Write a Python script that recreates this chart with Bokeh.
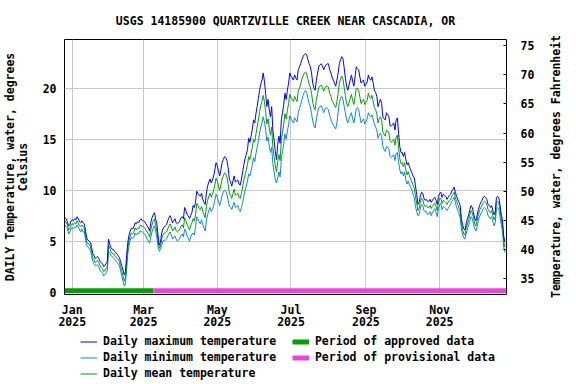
import math
import pandas as pd
from bokeh.plotting import figure
from bokeh.layouts import column
from bokeh.models import Range1d, LinearAxis, FixedTicker, Legend, LegendItem, ColumnDataSource, Label
from bokeh.embed import file_html
from bokeh.resources import INLINE

TITLE = "USGS 14185900 QUARTZVILLE CREEK NEAR CASCADIA, OR"
LEFT_LABEL = "DAILY Temperature, water, degrees\nCelsius"
RIGHT_LABEL = "Temperature, water, degrees Fahrenheit"
FONT = "DejaVu Sans Mono"

start_date = "2024-12-26"
approved_end = "2025-03-09"

tick_dates = ["2025-01-01", "2025-03-01", "2025-05-01", "2025-07-01", "2025-09-01", "2025-11-01"]
tick_labels = ["Jan\n2025", "Mar\n2025", "May\n2025", "Jul\n2025", "Sep\n2025", "Nov\n2025"]
celsius_ticks = [0, 5, 10, 15, 20]
fahrenheit_ticks = [35, 40, 45, 50, 55, 60, 65, 70, 75]

max_temp = [
    7.3, 7.2, 6.9, 6.5, 6.6, 7.0,
    7.1, 7.0, 7.2, 7.1, 7.4, 7.2, 6.9, 6.8, 7.0, 6.8,
    6.7, 6.0, 5.3, 5.1, 5.0, 4.9, 4.4, 3.8, 3.6, 3.3,
    3.4, 3.5, 3.3, 3.0, 2.9, 2.8, 2.5, 2.6, 2.8, 3.0,
    5.2, 4.7, 4.4, 4.2, 4.2, 4.0, 3.9, 3.7, 3.6, 3.4,
    3.0, 2.6, 2.2, 1.7, 2.0, 3.6, 4.9, 5.6, 6.0, 6.3,
    6.2, 6.4, 6.8, 6.7, 6.9, 6.8, 7.1, 7.2, 7.0, 7.0,
    6.9, 6.7, 6.5, 6.3, 6.0, 6.8, 7.3, 7.6, 7.8, 7.2,
    6.7, 5.6, 4.6, 4.9, 5.8, 6.2, 6.4, 6.5, 6.6, 7.0,
    7.3, 7.5, 7.2, 6.8, 7.0, 7.2, 6.8, 6.7, 6.8, 7.0,
    7.3, 7.4, 7.2, 8.3, 8.0, 7.6, 7.5, 7.2, 7.5, 7.8,
    8.5, 8.3, 8.8, 9.9, 9.7, 9.5, 9.4, 9.7, 9.1, 8.8,
    8.6, 9.7, 10.4, 10.8, 11.1, 10.7, 11.0, 11.4, 12.0, 12.7,
    12.4, 11.9, 11.4, 12.0, 12.7, 13.0, 13.3, 13.2, 12.9, 12.2,
    11.1, 10.8, 10.4, 10.9, 11.4, 10.8, 10.9, 11.0, 10.6, 10.5,
    11.1, 11.8, 12.5, 13.1, 13.5, 14.0, 15.1, 14.7, 15.3, 16.0,
    16.9, 16.6, 17.5, 18.2, 19.0, 19.8, 20.4, 20.8, 21.5, 20.7,
    19.5, 18.2, 18.9, 17.9, 17.2, 18.2, 15.9, 14.9, 13.8, 13.0,
    14.5, 15.3, 14.6, 16.9, 17.6, 18.4, 19.5, 18.9, 19.8, 20.5,
    21.5, 21.2, 21.0, 20.8, 21.3, 21.0, 20.8, 21.8, 22.1, 22.4,
    22.8, 23.1, 23.3, 23.4, 23.3, 22.8, 22.4, 22.1, 21.5, 20.5,
    20.0, 19.8, 20.8, 21.5, 22.1, 22.3, 22.4, 22.2, 21.8, 22.1,
    22.3, 22.4, 22.4, 21.8, 21.5, 21.1, 20.8, 20.5, 20.2, 20.8,
    21.5, 22.4, 22.8, 23.1, 22.9, 22.0, 21.0, 20.2, 19.8, 20.3,
    20.8, 21.3, 20.7, 20.2, 21.1, 22.1, 21.9, 21.8, 21.1, 20.5,
    20.7, 20.8, 20.2, 20.4, 20.6, 21.3, 20.9, 20.8, 21.1, 20.5,
    19.8, 19.6, 19.2, 18.2, 18.6, 18.9, 18.5, 17.2, 17.0, 16.9,
    17.6, 17.4, 17.2, 16.3, 16.3, 16.4, 16.6, 15.9, 16.9, 17.1,
    15.6, 14.3, 13.7, 13.7, 13.3, 13.7, 13.0, 12.5, 12.7, 12.3,
    12.0, 11.7, 11.4, 11.2, 10.4, 9.6, 8.6, 8.8, 9.4, 9.8,
    9.7, 9.2, 9.0, 9.1, 8.9, 8.9, 9.1, 8.8, 9.0, 9.2,
    9.3, 9.0, 8.6, 9.4, 9.7, 9.8, 9.3, 9.6, 9.5, 9.4,
    9.1, 9.3, 9.5, 9.6, 9.9, 10.1, 10.3, 9.8, 9.4, 9.1,
    8.8, 8.5, 7.2, 6.6, 6.2, 6.1, 6.8, 7.2, 7.6, 8.1,
    8.5, 8.3, 7.8, 7.2, 7.0, 7.5, 8.1, 8.5, 8.8, 9.0,
    9.3, 9.4, 9.3, 9.1, 8.6, 8.5, 8.3, 8.5, 8.0, 7.6,
    7.9, 9.3, 9.4, 9.2, 8.5, 7.6, 7.0, 5.5, 4.9,
]

min_temp = [
    6.6, 6.4, 6.3, 5.7, 5.9, 6.2,
    6.3, 6.2, 6.4, 6.3, 6.6, 6.4, 6.1, 5.9, 6.2, 5.9,
    5.9, 5.2, 4.6, 4.4, 4.3, 4.1, 3.6, 3.0, 2.8, 2.6,
    2.6, 2.7, 2.5, 2.1, 2.0, 1.9, 1.6, 1.7, 1.9, 2.1,
    4.0, 3.9, 3.6, 3.5, 3.4, 3.2, 3.1, 2.9, 2.8, 2.6,
    2.1, 1.6, 1.1, 0.6, 0.8, 2.2, 3.8, 4.6, 5.1, 5.4,
    5.3, 5.4, 5.8, 5.6, 5.8, 5.7, 6.0, 6.0, 5.9, 5.8,
    5.7, 5.5, 5.2, 5.0, 4.8, 5.4, 5.9, 6.3, 6.5, 6.0,
    5.4, 4.5, 4.0, 4.2, 4.6, 5.0, 5.1, 5.1, 5.2, 5.5,
    5.7, 5.9, 5.6, 5.2, 5.4, 5.5, 5.2, 5.0, 5.1, 5.3,
    5.6, 5.7, 5.4, 6.2, 6.0, 5.5, 5.3, 5.0, 5.4, 5.7,
    5.8, 5.6, 6.4, 7.4, 7.2, 6.9, 6.7, 7.1, 6.6, 6.3,
    6.0, 7.0, 7.6, 8.0, 8.3, 7.9, 8.1, 8.5, 9.0, 9.6,
    9.3, 8.9, 8.5, 8.9, 9.5, 9.8, 10.0, 9.9, 9.6, 9.0,
    8.4, 8.3, 8.1, 8.5, 8.8, 8.3, 8.4, 8.5, 8.1, 7.9,
    8.3, 8.8, 9.4, 10.0, 10.4, 10.9, 11.6, 11.4, 11.9, 12.5,
    13.2, 12.8, 13.6, 14.2, 14.8, 15.6, 16.2, 16.6, 17.2, 16.7,
    16.0, 14.8, 15.2, 14.4, 13.7, 14.2, 12.6, 11.8, 11.0, 10.7,
    11.2, 11.8, 11.3, 13.0, 13.8, 14.5, 15.5, 15.0, 15.8, 16.4,
    17.3, 17.0, 16.8, 16.6, 17.1, 16.9, 16.7, 17.6, 18.0, 18.4,
    18.9, 19.3, 19.6, 19.8, 19.6, 19.0, 18.5, 18.2, 17.5, 16.8,
    16.3, 16.1, 17.0, 17.6, 18.1, 18.2, 18.3, 18.0, 17.6, 17.9,
    18.1, 18.0, 17.9, 17.3, 17.0, 16.6, 16.4, 16.2, 16.0, 16.6,
    17.6, 18.6, 19.0, 19.2, 18.9, 18.2, 17.6, 16.9, 16.6, 17.0,
    17.3, 17.6, 17.0, 16.6, 17.2, 18.0, 18.1, 17.9, 17.2, 16.6,
    16.8, 17.0, 16.5, 16.7, 17.0, 17.6, 17.3, 17.2, 17.4, 16.9,
    16.5, 16.2, 15.9, 15.1, 15.4, 15.6, 15.3, 14.3, 14.0, 13.8,
    14.3, 14.2, 14.0, 13.3, 13.2, 13.3, 13.5, 12.9, 13.6, 13.7,
    12.8, 12.0, 11.6, 11.8, 11.4, 11.8, 11.0, 10.6, 10.9, 10.5,
    10.3, 10.0, 9.6, 9.3, 8.4, 7.9, 7.5, 7.6, 8.2, 8.6,
    8.5, 8.0, 7.9, 7.9, 7.6, 7.7, 7.9, 7.5, 7.8, 8.0,
    8.2, 7.8, 7.4, 8.2, 8.6, 8.7, 8.1, 8.4, 8.3, 8.2,
    8.0, 8.2, 8.4, 8.6, 8.9, 9.1, 9.3, 8.8, 8.3, 8.0,
    7.7, 7.3, 6.2, 5.6, 5.3, 5.2, 5.8, 6.2, 6.6, 7.0,
    7.4, 7.2, 6.7, 6.2, 6.0, 6.4, 7.0, 7.4, 7.7, 7.9,
    8.2, 8.3, 8.2, 8.0, 7.5, 7.4, 7.2, 7.4, 6.9, 6.5,
    6.8, 8.2, 8.3, 8.1, 7.4, 6.6, 6.0, 4.4, 3.9,
]

mean_temp = [
    7.0, 6.8, 6.6, 6.1, 6.2, 6.6,
    6.7, 6.6, 6.8, 6.7, 7.0, 6.8, 6.5, 6.4, 6.6, 6.4,
    6.3, 5.6, 4.9, 4.8, 4.7, 4.5, 4.0, 3.4, 3.2, 2.9,
    3.0, 3.1, 2.9, 2.6, 2.4, 2.3, 2.0, 2.1, 2.3, 2.5,
    4.6, 4.3, 4.0, 3.8, 3.8, 3.6, 3.5, 3.3, 3.2, 3.0,
    2.5, 2.1, 1.6, 1.1, 1.4, 2.9, 4.3, 5.1, 5.5, 5.8,
    5.7, 5.9, 6.3, 6.1, 6.3, 6.2, 6.5, 6.6, 6.4, 6.4,
    6.3, 6.1, 5.9, 5.7, 5.4, 6.1, 6.6, 7.0, 7.2, 6.6,
    6.0, 5.1, 4.3, 4.5, 5.2, 5.6, 5.8, 5.8, 5.9, 6.2,
    6.5, 6.7, 6.4, 6.0, 6.2, 6.4, 6.0, 5.9, 6.0, 6.2,
    6.5, 6.6, 6.3, 7.3, 7.0, 6.6, 6.4, 6.1, 6.5, 6.8,
    7.2, 7.0, 7.6, 8.7, 8.5, 8.2, 8.1, 8.4, 7.9, 7.6,
    7.3, 8.4, 9.0, 9.4, 9.7, 9.3, 9.6, 10.0, 10.5, 11.2,
    10.9, 10.4, 10.0, 10.5, 11.1, 11.4, 11.7, 11.6, 11.3, 10.6,
    9.7, 9.5, 9.2, 9.7, 10.1, 9.5, 9.6, 9.7, 9.3, 9.2,
    9.7, 10.3, 11.0, 11.5, 12.0, 12.5, 13.3, 13.0, 13.6, 14.2,
    15.0, 14.7, 15.5, 16.2, 16.9, 17.7, 18.3, 18.7, 19.3, 18.7,
    17.7, 16.5, 17.0, 16.1, 15.4, 16.2, 14.2, 13.3, 12.4, 11.8,
    12.8, 13.5, 12.9, 14.9, 15.7, 16.5, 17.5, 17.0, 17.8, 18.5,
    19.4, 19.1, 18.9, 18.7, 19.2, 18.9, 18.7, 19.7, 20.0, 20.4,
    20.9, 21.2, 21.5, 21.6, 21.4, 20.9, 20.4, 20.1, 19.5, 18.6,
    18.1, 17.9, 18.9, 19.5, 20.1, 20.2, 20.3, 20.1, 19.7, 20.0,
    20.2, 20.2, 20.1, 19.5, 19.2, 18.8, 18.6, 18.3, 18.1, 18.7,
    19.5, 20.5, 20.9, 21.2, 20.9, 20.1, 19.3, 18.5, 18.2, 18.6,
    19.0, 19.4, 18.8, 18.4, 19.1, 20.0, 20.0, 19.8, 19.1, 18.5,
    18.8, 18.9, 18.4, 18.6, 18.8, 19.5, 19.1, 19.0, 19.3, 18.7,
    18.1, 17.9, 17.5, 16.6, 17.0, 17.2, 16.9, 15.7, 15.5, 15.3,
    15.9, 15.8, 15.6, 14.8, 14.7, 14.8, 15.0, 14.4, 15.2, 15.4,
    14.2, 13.1, 12.6, 12.7, 12.3, 12.7, 12.0, 11.5, 11.8, 11.4,
    11.1, 10.8, 10.5, 10.2, 9.4, 8.7, 8.0, 8.2, 8.8, 9.2,
    9.1, 8.6, 8.4, 8.5, 8.3, 8.3, 8.5, 8.2, 8.4, 8.6,
    8.7, 8.4, 8.0, 8.8, 9.2, 9.2, 8.7, 9.0, 8.9, 8.8,
    8.6, 8.8, 9.0, 9.1, 9.4, 9.6, 9.8, 9.3, 8.9, 8.6,
    8.2, 7.9, 6.7, 6.1, 5.7, 5.6, 6.3, 6.7, 7.1, 7.6,
    8.0, 7.8, 7.3, 6.7, 6.5, 7.0, 7.6, 8.0, 8.3, 8.5,
    8.8, 8.9, 8.8, 8.6, 8.1, 8.0, 7.8, 8.0, 7.5, 7.1,
    7.4, 8.8, 8.9, 8.7, 8.0, 7.1, 6.5, 5.0, 4.4,
]

MAX_COLOR, MIN_COLOR, MEAN_COLOR = "#0000ff", "#0a88d2", "#00a000"
APPROVED_COLOR, PROVISIONAL_COLOR = "#00a000", "#ee44dd"

# ---- derived positions (day number relative to 1 Jan 2025) ----
origin = pd.Timestamp("2025-01-01")
n = min(len(max_temp), len(min_temp), len(mean_temp))
dates = pd.date_range(start_date, periods=n, freq="D")
days = [int(d) for d in (dates - origin).days]
tick_pos = [int((pd.Timestamp(t) - origin).days) for t in tick_dates]
app_end = int((pd.Timestamp(approved_end) - origin).days)

src = ColumnDataSource(dict(x=days, tmax=max_temp[:n], tmin=min_temp[:n], tmean=mean_temp[:n]))

p = figure(width=576, height=332, output_backend="svg", toolbar_location=None,
           title=TITLE,
           x_range=Range1d(-6.4, 359.3), y_range=Range1d(-0.23, 24.78),
           min_border_left=64, min_border_right=70, min_border_top=39, min_border_bottom=36)

p.title.align = "center"
p.title.text_font = FONT
p.title.text_font_size = "11.5px"
p.title.text_font_style = "bold"
p.title.text_color = "black"
p.title.standoff = 23

p.outline_line_color = "black"
p.outline_line_width = 1
p.outline_line_alpha = 1
p.background_fill_color = "white"
p.border_fill_color = "white"

# axes
xa = p.xaxis[0]
xa.ticker = FixedTicker(ticks=tick_pos)
xa.major_label_overrides = {pos: lab for pos, lab in zip(tick_pos, tick_labels)}
ya = p.yaxis[0]
ya.ticker = FixedTicker(ticks=celsius_ticks)
ya.axis_label = LEFT_LABEL

p.extra_y_ranges = {"F": Range1d(32.2, 76.1)}
ra = LinearAxis(y_range_name="F", ticker=FixedTicker(ticks=fahrenheit_ticks))
p.add_layout(ra, "right")

for ax in (xa, ya, ra):
    ax.axis_line_color = None
    ax.major_tick_out = 0
    ax.major_tick_in = 0
    ax.minor_tick_line_color = None
    ax.major_label_text_font = FONT
    ax.major_label_text_font_size = "11.5px"
    ax.major_label_text_font_style = "bold"
    ax.major_label_text_color = "black"
    ax.axis_label_text_font = FONT
    ax.axis_label_text_font_size = "11.5px"
    ax.axis_label_text_font_style = "bold"
    ax.axis_label_text_color = "black"

xa.major_label_standoff = 8
xa.major_label_text_line_height = 0.9
ya.major_label_standoff = 8
ya.axis_label_standoff = 10
ya.axis_label_text_line_height = 0.9
ra.major_tick_in = 3
ra.major_tick_line_color = "black"
ra.major_label_standoff = 14

# right-hand axis title, reading bottom to top
rlab = Label(x=18, y=128, x_units="screen", y_units="screen", text=RIGHT_LABEL,
             angle=math.pi / 2, text_align="center", text_baseline="middle",
             text_font=FONT, text_font_size="11.5px", text_font_style="bold", text_color="black")
p.add_layout(rlab, "right")

p.xgrid.ticker = FixedTicker(ticks=tick_pos)
p.ygrid.ticker = FixedTicker(ticks=celsius_ticks)
p.grid.grid_line_color = "#c8c8c8"
p.grid.grid_line_width = 1

# data lines
p.line("x", "tmin", source=src, line_color=MIN_COLOR, line_width=1)
p.line("x", "tmean", source=src, line_color=MEAN_COLOR, line_width=1)
p.line("x", "tmax", source=src, line_color=MAX_COLOR, line_width=1)

# approval status bars
status_y = 0.15
p.line([days[0], app_end], [status_y, status_y], line_color=APPROVED_COLOR, line_width=5)
p.line([app_end, days[-1] + 1], [status_y, status_y], line_color=PROVISIONAL_COLOR, line_width=5)

# ---- legend strip below the chart (key glyphs only, nothing plotted) ----
q = figure(width=576, height=52, output_backend="svg", toolbar_location=None,
           x_range=Range1d(0, 1), y_range=Range1d(0, 1),
           x_axis_location=None, y_axis_location=None,
           min_border_left=64, min_border_right=70, min_border_top=0, min_border_bottom=0)
q.outline_line_color = None
q.grid.visible = False
q.background_fill_color = "white"
q.border_fill_color = "white"
key = dict(x=[0], y=[0])
k_max = q.line(key["x"], key["y"], line_color=MAX_COLOR, line_width=1)
k_min = q.line(key["x"], key["y"], line_color=MIN_COLOR, line_width=1)
k_mean = q.line(key["x"], key["y"], line_color=MEAN_COLOR, line_width=1)
k_app = q.line(key["x"], key["y"], line_color=APPROVED_COLOR, line_width=5)
k_prov = q.line(key["x"], key["y"], line_color=PROVISIONAL_COLOR, line_width=5)

lg = Legend(items=[
    LegendItem(label="Daily maximum temperature  ", renderers=[k_max]),
    LegendItem(label="Daily minimum temperature  ", renderers=[k_min]),
    LegendItem(label="Daily mean temperature  ", renderers=[k_mean]),
    LegendItem(label="Period of approved data", renderers=[k_app]),
    LegendItem(label="Period of provisional data", renderers=[k_prov]),
], location=(16, 4), orientation="vertical", nrows=3)
lg.border_line_color = None
lg.background_fill_alpha = 0
lg.padding = 0
lg.margin = 0
lg.spacing = 2
lg.glyph_width = 17
lg.glyph_height = 13
lg.label_height = 13
lg.label_standoff = 6
lg.label_text_font = FONT
lg.label_text_font_size = "11.5px"
lg.label_text_font_style = "bold"
lg.label_text_color = "black"
q.add_layout(lg)

layout = column(p, q, spacing=0)
open("out.html", "w").write(file_html(layout, INLINE))
